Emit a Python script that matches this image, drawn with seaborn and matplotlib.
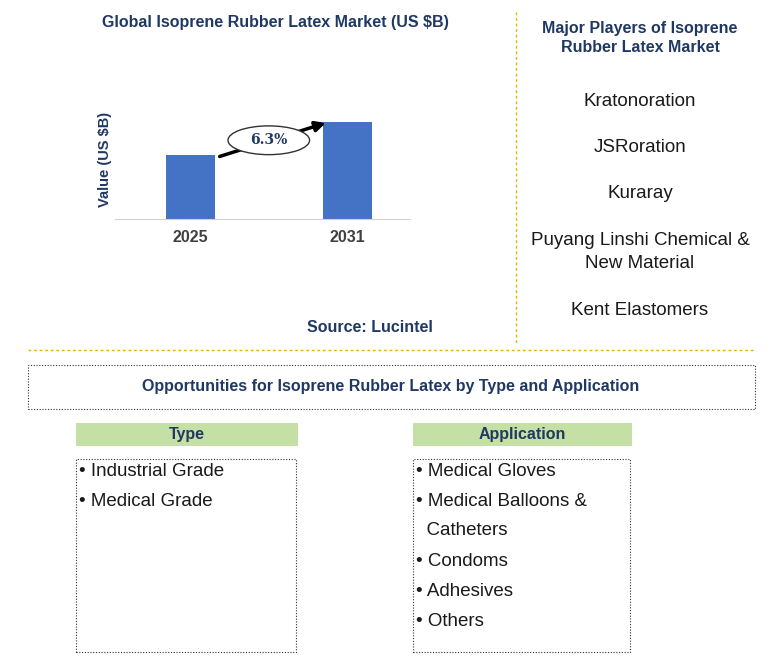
import matplotlib
matplotlib.use("Agg")
import matplotlib.pyplot as plt
import matplotlib.patches as mpatches
import pandas as pd
import seaborn as sns

plt.rcParams["font.family"] = "Liberation Sans"

years = ["2025", "2031"]
values = [2.1, 3.2]
cagr_label = "6.3%"
players = ["Kratonoration", "JSRoration", "Kuraray",
           "Puyang Linshi Chemical &\nNew Material", "Kent Elastomers"]
types = ["Industrial Grade", "Medical Grade"]
applications = ["Medical Gloves", "Medical Balloons &\n  Catheters", "Condoms", "Adhesives", "Others"]

W, H = 781, 669
NAVY = "#1F3864"
GOLD = "#E6B100"

fig = plt.figure(figsize=(W / 100, H / 100), dpi=100)


def fx(x):
    return x / W


def fy(y):
    return 1 - y / H


# bar chart
ax = fig.add_axes([fx(115), fy(219), fx(410) - fx(115), fy(100) - fy(219)])
df = pd.DataFrame({"year": years, "value": values})
sns.barplot(data=df, x="year", y="value", color="#4472C4", width=0.31, ax=ax, saturation=1)
ax.set_xlim(-0.48, 1.40)
ax.set_ylim(0, 3.93)
for s in ["top", "right", "left"]:
    ax.spines[s].set_visible(False)
ax.spines["bottom"].set_color("#D0D0D0")
ax.set_yticks([])
ax.set_xlabel("")
ax.set_ylabel("Value (US $B)", color=NAVY, fontsize=10.5, fontweight="bold", labelpad=2)
ax.tick_params(axis="x", length=0, pad=8, labelsize=11.5, labelcolor="#404040")
for t in ax.get_xticklabels():
    t.set_fontweight("bold")
ax.annotate("", xy=(0.88, values[1] * 1.0), xytext=(0.17, values[0] * 0.97),
            arrowprops=dict(arrowstyle="-|>", color="black", lw=2.5, mutation_scale=15))
ax.add_patch(mpatches.Ellipse((0.5, 2.6), 0.52, 0.95, facecolor="white", edgecolor="#333333", lw=1, zorder=5))
ax.text(0.5, 2.6, cagr_label, ha="center", va="center", fontsize=10, fontweight="bold",
        color=NAVY, family="DejaVu Serif", zorder=6)

fig.text(fx(275), fy(22), "Global Isoprene Rubber Latex Market (US $B)", ha="center", va="center",
         fontsize=11.5, fontweight="bold", color=NAVY)
fig.text(fx(370), fy(328), "Source: Lucintel", ha="center", va="center",
         fontsize=11.5, fontweight="bold", color=NAVY)

# separators
fig.add_artist(plt.Line2D([fx(516), fx(516)], [fy(12), fy(345)], color=GOLD, lw=1, ls=(0, (2, 2))))
fig.add_artist(plt.Line2D([fx(28), fx(755)], [fy(350), fy(350)], color=GOLD, lw=1, ls=(0, (2, 2))))

# players
fig.text(fx(640), fy(38), "Major Players of Isoprene\nRubber Latex Market", ha="center", va="center",
         fontsize=11.5, fontweight="bold", color=NAVY, linespacing=1.3)
for y, p in zip([101, 148, 194, 252, 311], players):
    fig.text(fx(640), fy(y), p, ha="center", va="center", fontsize=13.5, color="#1a1a1a", linespacing=1.5)

# opportunities box
fig.add_artist(mpatches.Rectangle((fx(28), fy(409)), fx(755) - fx(28), fy(365) - fy(409),
                                  fill=False, ls=(0, (1, 1.5)), lw=0.8, ec="#333333"))
fig.text(fx(391), fy(387), "Opportunities for Isoprene Rubber Latex by Type and Application",
         ha="center", va="center", fontsize=11.5, fontweight="bold", color=NAVY)


def column(x0, x1, title, items, item_y):
    fig.add_artist(mpatches.Rectangle((fx(x0), fy(446)), fx(x1) - fx(x0), fy(423) - fy(446),
                                      fc="#C5E0A5", ec="none"))
    fig.text(fx((x0 + x1) / 2), fy(434), title, ha="center", va="center",
             fontsize=11.5, fontweight="bold", color=NAVY)
    fig.add_artist(mpatches.Rectangle((fx(x0), fy(652)), fx(x1 - 2) - fx(x0), fy(459) - fy(652),
                                      fill=False, ls=(0, (1, 1.5)), lw=0.8, ec="#333333"))
    for y, it in zip(item_y, items):
        fig.text(fx(x0 + 3), fy(y), "• " + it, ha="center" if False else "left", va="center",
                 fontsize=13.5, color="#1a1a1a", linespacing=1.95)


column(76, 298, "Type", types, [471, 501])
column(413, 632, "Application", applications, [471, 516, 561, 591, 621])

fig.savefig("out.png", dpi=100)
